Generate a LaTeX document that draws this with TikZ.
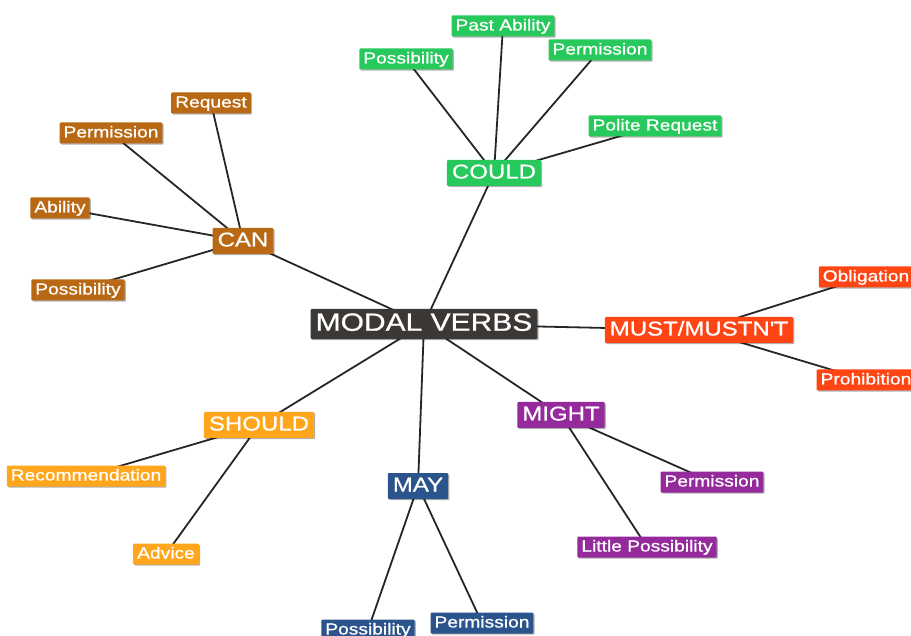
\documentclass[tikz,border=0pt]{standalone}
\usepackage{fontspec}
\setmainfont[FakeStretch=1.2, FakeBold=0.8]{Liberation Sans}
\usetikzlibrary{positioning, backgrounds, shadows}

\definecolor{rootgray}{RGB}{59,56,53}
\definecolor{couldgreen}{RGB}{40,201,92}
\definecolor{canbrown}{RGB}{185,104,19}
\definecolor{mustred}{RGB}{255,69,20}
\definecolor{mightpurple}{RGB}{148,42,156}
\definecolor{mayblue}{RGB}{44,84,140}
\definecolor{shouldorange}{RGB}{255,166,28}

\begin{document}
\begin{tikzpicture}[x=1pt, y=-1pt, line cap=round, line join=round]

	\tikzset{
		box/.style={text=white, rounded corners=1pt,
			drop shadow={shadow xshift=1.2pt, shadow yshift=-1.2pt, opacity=0.3, fill=black}},
		leaf/.style={box, inner xsep=4pt, inner ysep=2.5pt, text height=12.5pt, text depth=3.5pt,
			font=\fontsize{16}{18}\selectfont},
		verb/.style={box, inner xsep=5pt, inner ysep=3pt, text height=15.5pt, text depth=4.5pt,
			font=\fontsize{20}{22}\selectfont},
		root/.style={box, fill=rootgray, inner xsep=5pt, inner ysep=2.8pt, text height=19pt, text depth=5.5pt,
			font=\fontsize{25}{28}\selectfont},
		link/.style={line width=1.8pt, black!85}
	}

	\useasboundingbox (0,0) rectangle (911,636);

	\node[root] (modal) at (424,324) {MODAL VERBS};

	% could
	\node[verb, fill=couldgreen] (could) at (494,173) {COULD};
	\node[leaf, fill=couldgreen] (couldposs) at (406,59) {Possibility};
	\node[leaf, fill=couldgreen] (couldpast) at (503,26) {Past Ability};
	\node[leaf, fill=couldgreen] (couldperm) at (600,50) {Permission};
	\node[leaf, fill=couldgreen] (couldpolite) at (655,126) {Polite Request};

	% can
	\node[verb, fill=canbrown] (can) at (243,241) {CAN};
	\node[leaf, fill=canbrown] (canreq) at (211,103) {Request};
	\node[leaf, fill=canbrown] (canperm) at (111,133) {Permission};
	\node[leaf, fill=canbrown] (canabil) at (60,208) {Ability};
	\node[leaf, fill=canbrown] (canposs) at (78,290) {Possibility};

	% must
	\node[verb, fill=mustred] (must) at (699,330) {MUST/MUSTN\textquotesingle T};
	\node[leaf, fill=mustred] (mustobl) at (866,277) {Obligation};
	\node[leaf, fill=mustred] (mustproh) at (866,380) {Prohibition};

	% might
	\node[verb, fill=mightpurple] (might) at (561,415) {MIGHT};
	\node[leaf, fill=mightpurple] (mightperm) at (712,482) {Permission};
	\node[leaf, fill=mightpurple] (mightposs) at (647,547) {Little Possibility};

	% may
	\node[verb, fill=mayblue] (may) at (418,486) {MAY};
	\node[leaf, fill=mayblue] (mayposs) at (368,630) {Possibility};
	\node[leaf, fill=mayblue] (mayperm) at (482,623) {Permission};

	% should
	\node[verb, fill=shouldorange] (should) at (259,425) {SHOULD};
	\node[leaf, fill=shouldorange] (shouldrec) at (86,476) {Recommendation};
	\node[leaf, fill=shouldorange] (shouldadv) at (166,554) {Advice};

	\begin{scope}[on background layer]
		\draw[link] (modal.center) -- (could.center)
			(could.center) -- (couldposs.center)
			(could.center) -- (couldpast.center)
			(could.center) -- (couldperm.center)
			(could.center) -- (couldpolite.center);
		\draw[link] (modal.center) -- (can.center)
			(can.center) -- (canreq.center)
			(can.center) -- (canperm.center)
			(can.center) -- (canabil.center)
			(can.center) -- (canposs.center);
		\draw[link] (modal.center) -- (must.center)
			(must.center) -- (mustobl.center)
			(must.center) -- (mustproh.center);
		\draw[link] (modal.center) -- (might.center)
			(might.center) -- (mightperm.center)
			(might.center) -- (mightposs.center);
		\draw[link] (modal.center) -- (may.center)
			(may.center) -- (mayposs.center)
			(may.center) -- (mayperm.center);
		\draw[link] (modal.center) -- (should.center)
			(should.center) -- (shouldrec.center)
			(should.center) -- (shouldadv.center);
	\end{scope}

\end{tikzpicture}
\end{document}
